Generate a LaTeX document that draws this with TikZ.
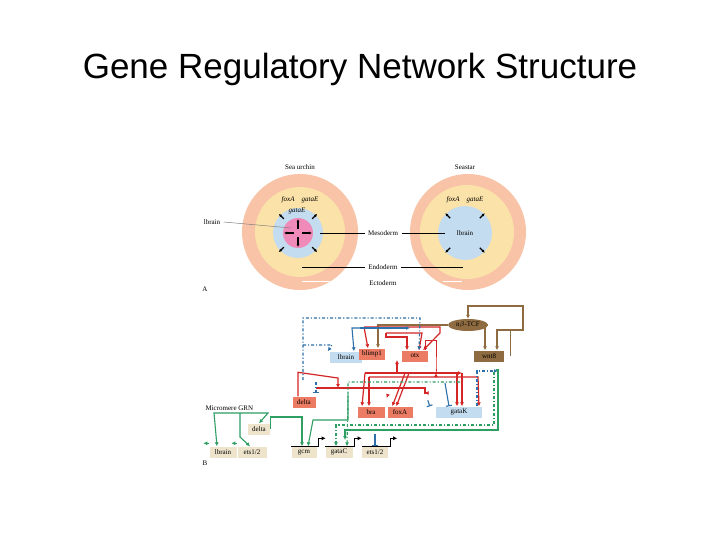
\documentclass[tikz,border=0pt]{standalone}
\usepackage{fontspec}
\setmainfont{Liberation Sans}
\newfontfamily\smallserif{Liberation Serif}
\usetikzlibrary{arrows.meta,shapes.geometric}
\definecolor{ecto}{HTML}{F9C3A8}
\definecolor{endo}{HTML}{FBE2A8}
\definecolor{meso}{HTML}{C3DCF0}
\definecolor{pinkm}{HTML}{F08AB8}
\definecolor{salm}{HTML}{EB7B63}
\definecolor{brn}{HTML}{8E6B40}
\definecolor{beig}{HTML}{EEE4CC}
\definecolor{redl}{HTML}{D42626}
\definecolor{blul}{HTML}{2E70AA}
\definecolor{grnl}{HTML}{2E9E62}
\tikzset{
  gene/.style={inner sep=0pt, minimum height=11pt, font=\smallserif\fontsize{7}{8}\selectfont},
  salbox/.style={gene, fill=salm},
  blubox/.style={gene, fill=meso},
  brnbox/.style={gene, fill=brn},
  begbox/.style={gene, fill=beig},
  lbl/.style={font=\smallserif\fontsize{7}{8}\selectfont},
  red/.style={draw=redl, line width=1.2pt, -{Latex[length=4pt,width=4pt]}},
  blu/.style={draw=blul, line width=1.1pt, -{Latex[length=4pt,width=4pt]}},
  grn/.style={draw=grnl, line width=1.1pt, -{Latex[length=4pt,width=4pt]}},
  brw/.style={draw=brn, line width=1.4pt, -{Latex[length=4pt,width=4pt]}},
  prom/.style={draw=black, line width=1.4pt, -{Latex[length=4pt,width=4pt]}},
  radial/.style={line width=1.2pt, -{Latex[length=3pt,width=3pt]}}
}
\begin{document}
\begin{tikzpicture}[x=1pt,y=-1pt]
  \useasboundingbox[fill=white] (0,0) rectangle (720,540);
  % title
  \node[font=\fontsize{35}{40}\selectfont] (title) at (360,69) {Gene Regulatory Network Structure};

  % sea urchin embryo
  \fill[ecto] (300,232) circle (58);
  \fill[endo] (300,232) circle (45);
  \fill[meso] (298,233) circle (25);
  \fill[pinkm] (298,233) circle (15);
  \foreach \a in {45,135,225,315}
    \draw[radial] (298,233) ++(\a:20) -- ++(\a:7);
  \foreach \a in {0,90,180,270}
    \draw[radial] (298,233) ++(\a:4) -- ++(\a:10);
  % seastar embryo
  \fill[ecto] (468,232) circle (58);
  \fill[endo] (467,232) circle (47);
  \fill[meso] (465,233) circle (27);
  \foreach \a in {45,135,225,315}
    \draw[radial] (465,233) ++(\a:21) -- ++(\a:7);
  \draw[white, line width=1pt] (302,281) -- (330,281) (443,281) -- (462,281);

  \node[lbl] (urchin) at (300,167) {Sea urchin};
  \node[lbl] (seastar) at (465,167) {Seastar};
  \node[lbl, font=\smallserif\itshape\fontsize{7}{8}\selectfont] (fa1) at (300,200) {foxA\quad gataE};
  \node[lbl, font=\smallserif\itshape\fontsize{7}{8}\selectfont] (ge1) at (297,211) {gataE};
  \node[lbl, font=\smallserif\itshape\fontsize{7}{8}\selectfont] (fa2) at (465,200) {foxA\quad gataE};
  \node[lbl] (lb2) at (465,233) {lbrain};
  \node[lbl] (lb1) at (212,222) {lbrain};
  \node[lbl] (meso) at (383,233) {Mesoderm};
  \node[lbl] (endo) at (383,267) {Endoderm};
  \node[lbl] (ecto) at (383,283) {Ectoderm};
  \node[lbl] (A) at (205,289) {A};
  \draw[gray, line width=0.5pt] (lb1.east) -- (291,228);
  \draw[line width=0.9pt] (meso.west) -- (320,233) (meso.east) -- (445,233);
  \draw[line width=0.9pt] (endo.west) -- (302,267) (endo.east) -- (463,267);

  % network, upper part
  \node[gene, ellipse, minimum width=40pt, minimum height=12pt, fill=brn] (tcf) at (468,325) {n$\beta$-TCF};
  \node[blubox, minimum width=32pt] (lbr) at (346,357) {lbrain};
  \node[salbox, minimum width=26pt] (blimp) at (372,354) {blimp1};
  \node[salbox, minimum width=26pt] (otx) at (415,356) {otx};
  \node[brnbox, minimum width=30pt] (wnt) at (489,356) {wnt8};
  \node[salbox, minimum width=23pt] (delta) at (304,402) {delta};
  \node[salbox, minimum width=27pt] (bra) at (371,412) {bra};
  \node[salbox, minimum width=25pt] (foxa) at (400,412) {foxA};
  \node[blubox, minimum width=46pt] (gatak) at (459,412) {gataK};
  % micromere part
  \node[lbl, anchor=west] (micro) at (202,408) {Micromere GRN};
  \node[begbox, minimum width=22pt] (mdelta) at (259,429) {delta};
  \node[begbox, minimum width=27pt] (mlbr) at (223,452) {lbrain};
  \node[begbox, minimum width=29pt] (mets) at (252,452) {ets1/2};
  \node[begbox, minimum width=25pt] (gcm) at (304,452) {gcm};
  \node[begbox, minimum width=27pt] (gatac) at (339,452) {gataC};
  \node[begbox, minimum width=26pt] (ets) at (375,452) {ets1/2};
  \node[lbl] (B) at (205,463) {B};

  % brown links
  \draw[brw] (tcf.west) -| ([xshift=6]blimp.north);
  \draw[brw] (tcf.east) -| ([xshift=-4]wnt.north);
  \draw[brw] ([xshift=6]wnt.east) |- (523,330) -- (523,306) -| (tcf.north);
  \draw[brw] (523,330) -- ([xshift=8]wnt.north |- 330,330) -- ([xshift=8]wnt.north);
  % red links
  \draw[red] (364,327) -- (440,327) -- (440,333) -- ([xshift=8]otx.north);
  \draw[red] (364,327) -- ([xshift=-4]blimp.north);
  \draw[red] (386,333) -- (422,333) -- ([xshift=4]otx.north);
  \draw[red] (386,333) |- ([xshift=-8]otx.north |- 337,337) -- ([xshift=-8]otx.north);
  \draw[red, line width=0.8pt] ([xshift=10]otx.north) |- (436,340) |- (436,373);
  \draw[red] (397,373) -- (397,360);
  \draw[red] (365,373) -- (462,373);
  \draw[red] (365,373) -- ([xshift=-9]bra.north);
  \draw[red] (369,377) -- ([xshift=-2]bra.north);
  \draw[red] (369,377) -- (478,377) -- ([xshift=20]gatak.north);
  \draw[red] (405,373) -- ([xshift=5]foxa.north west);
  \draw[red] (409,373) -- ([xshift=9]foxa.north west);
  \draw[red] (462,373) -- ([xshift=3]gatak.north);
  \draw[red] (457,373) -- ([xshift=-2]gatak.north);
  \draw[red] ([xshift=-6]delta.north) -- ++(0,-24) -- (338,378) -- (338,388);
  \draw[red] (delta.east |- 0,388) -- (338,388) -- (425,388) -- (425,393) -- ([xshift=12]foxa.east |- 0,393);
  \draw[red, line width=0.8pt] (foxa.north west) ++(0,-10) -- ([xshift=2]bra.east |- 0,398);
  % blue links
  \draw[blu, dash dot] (303,380) -- (303,318) -- (420,318) -- ([xshift=4]otx.north);
  \draw[blu, dash dot] (303,345) -- (332,345) -- ([xshift=-2]lbr.north west);
  \draw[blu] (360,328) -- (352,328) -- ([xshift=8]lbr.north);
  \draw[blu] (360,328) -- (410,328);
  \draw[blu, dash dot] ([xshift=18]gatak.north) |- (484,371) -- (498,371);
  \draw[blu, -{Bar[width=6pt]}] (445,383) -- ([xshift=-10]gatak.north);
  \draw[blu, -{Bar[width=6pt]}] (gatak.north west) ++(-8,-6) -- ([xshift=-6]gatak.north west);
  \draw[blu, -{Bar[width=6pt]}] (ets.north) ++(0,-12) -- (ets.north);
  \draw[blu, -{Bar[width=6pt]}, dash dot] (316,382) -- (316,393);
  % green links
  \draw[grn] (496,370) -- (498,370) -- (498,430) -- (345,430) -- (345,440);
  \draw[grn, dash dot] (494,372) -- (494,425) -- (336,425) -- ([xshift=-3]gatac.north);
  \draw[grn, dash dot] (460,382) -- (348,382) -- (348,395) -- ([xshift=8]gatac.north);
  \draw[grn] (348,395) -- (348,420) -- (313,420) -- ([xshift=4]gcm.north);
  \draw[grn] (232,413) -- (214,413) -- ([xshift=-6]mlbr.north);
  \draw[grn] (232,413) -- (268,413) -- (mdelta.north);
  \draw[grn] (240,413) -- (240,437) -- ([xshift=-2]mets.north);
  \draw[grn] (mlbr.north west) ++(0,-3) -- ++(-6,0);
  \draw[grn] (mets.north west) ++(0,-3) -- ++(-6,0);
  \draw[grn] (mdelta.east) -- ++(0,-12) -- (290,417) -- (302,417) -- ([xshift=-2]gcm.north);
  % promoters
  \foreach \g in {gcm,gatac,ets}
    \draw[prom] (\g.north west) -- ([xshift=2]\g.north east) -- ++(0,-8) -- ++(7,0);
\end{tikzpicture}
\end{document}
